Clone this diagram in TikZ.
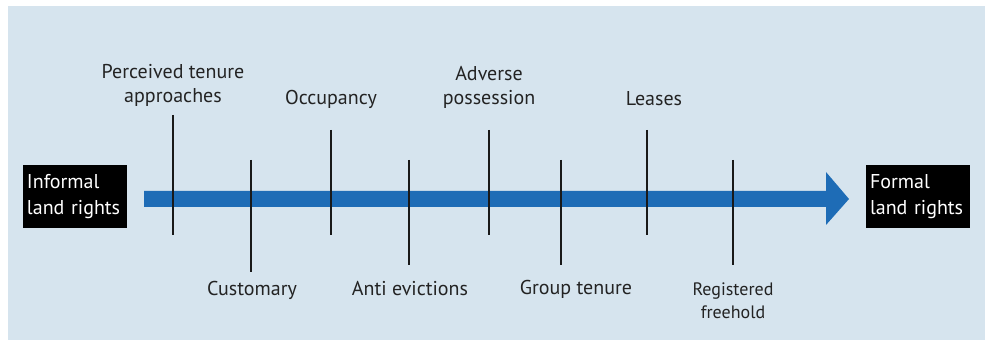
\documentclass[tikz,border=0pt]{standalone}
\usepackage{fontspec}
\setmainfont{PT Sans}
\definecolor{panel}{RGB}{214,228,238}
\definecolor{arrowblue}{RGB}{30,108,182}
\definecolor{txt}{RGB}{35,35,35}
\begin{document}
\begin{tikzpicture}[x=1pt,y=-1pt,
  lbl/.style={font=\fontsize{20}{24}\selectfont,text=txt,align=center,inner sep=0pt},
  smalllbl/.style={font=\fontsize{18}{23}\selectfont,text=txt,align=center,inner sep=0pt},
  endbox/.style={fill=black,text=white,font=\fontsize{20}{26}\selectfont,align=left,minimum width=104pt,minimum height=63pt,inner xsep=4pt,inner ysep=2pt,text width=96pt},
  tick/.style={draw=black!90,line width=1.8pt}]
\useasboundingbox (0,0) rectangle (989,342);
\fill[white] (0,0) rectangle (989,342);
\fill[panel] (8,6) rectangle (985,340);
% arrow
\fill[arrowblue] (144,191) -- (826,191) -- (826,172) -- (849,199) -- (826,225) -- (826,207) -- (144,207) -- cycle;
% end boxes
\node[endbox] (informal) at (75,196.5) {Informal\\land rights};
\node[endbox] (formal) at (918,196.5) {Formal\\land rights};
% ticks
\coordinate (p1) at (173,115); \coordinate (p2) at (173,235);
\coordinate (c1) at (251,160); \coordinate (c2) at (251,272);
\coordinate (o1) at (331,130); \coordinate (o2) at (331,235);
\coordinate (a1) at (409,160); \coordinate (a2) at (409,265);
\coordinate (d1) at (489,130); \coordinate (d2) at (489,235);
\coordinate (g1) at (561,160); \coordinate (g2) at (561,265);
\coordinate (l1) at (647,130); \coordinate (l2) at (647,235);
\coordinate (r1) at (733,160); \coordinate (r2) at (733,265);
\draw[tick] (p1) -- (p2);
\draw[tick] (c1) -- (c2);
\draw[tick] (o1) -- (o2);
\draw[tick] (a1) -- (a2);
\draw[tick] (d1) -- (d2);
\draw[tick] (g1) -- (g2);
\draw[tick] (l1) -- (l2);
\draw[tick] (r1) -- (r2);
% labels
\node[lbl] (perceived) at (173,85) {Perceived tenure\\approaches};
\node[lbl] (occupancy) at (331,99) {Occupancy};
\node[lbl] (adverse) at (489,87) {Adverse\\possession};
\node[lbl] (leases) at (654,99) {Leases};
\node[lbl] (customary) at (252,290) {Customary};
\node[lbl] (anti) at (410,289) {Anti evictions};
\node[lbl] (group) at (576,289) {Group tenure};
\node[smalllbl] (registered) at (733,301) {Registered\\freehold};
\end{tikzpicture}
\end{document}
